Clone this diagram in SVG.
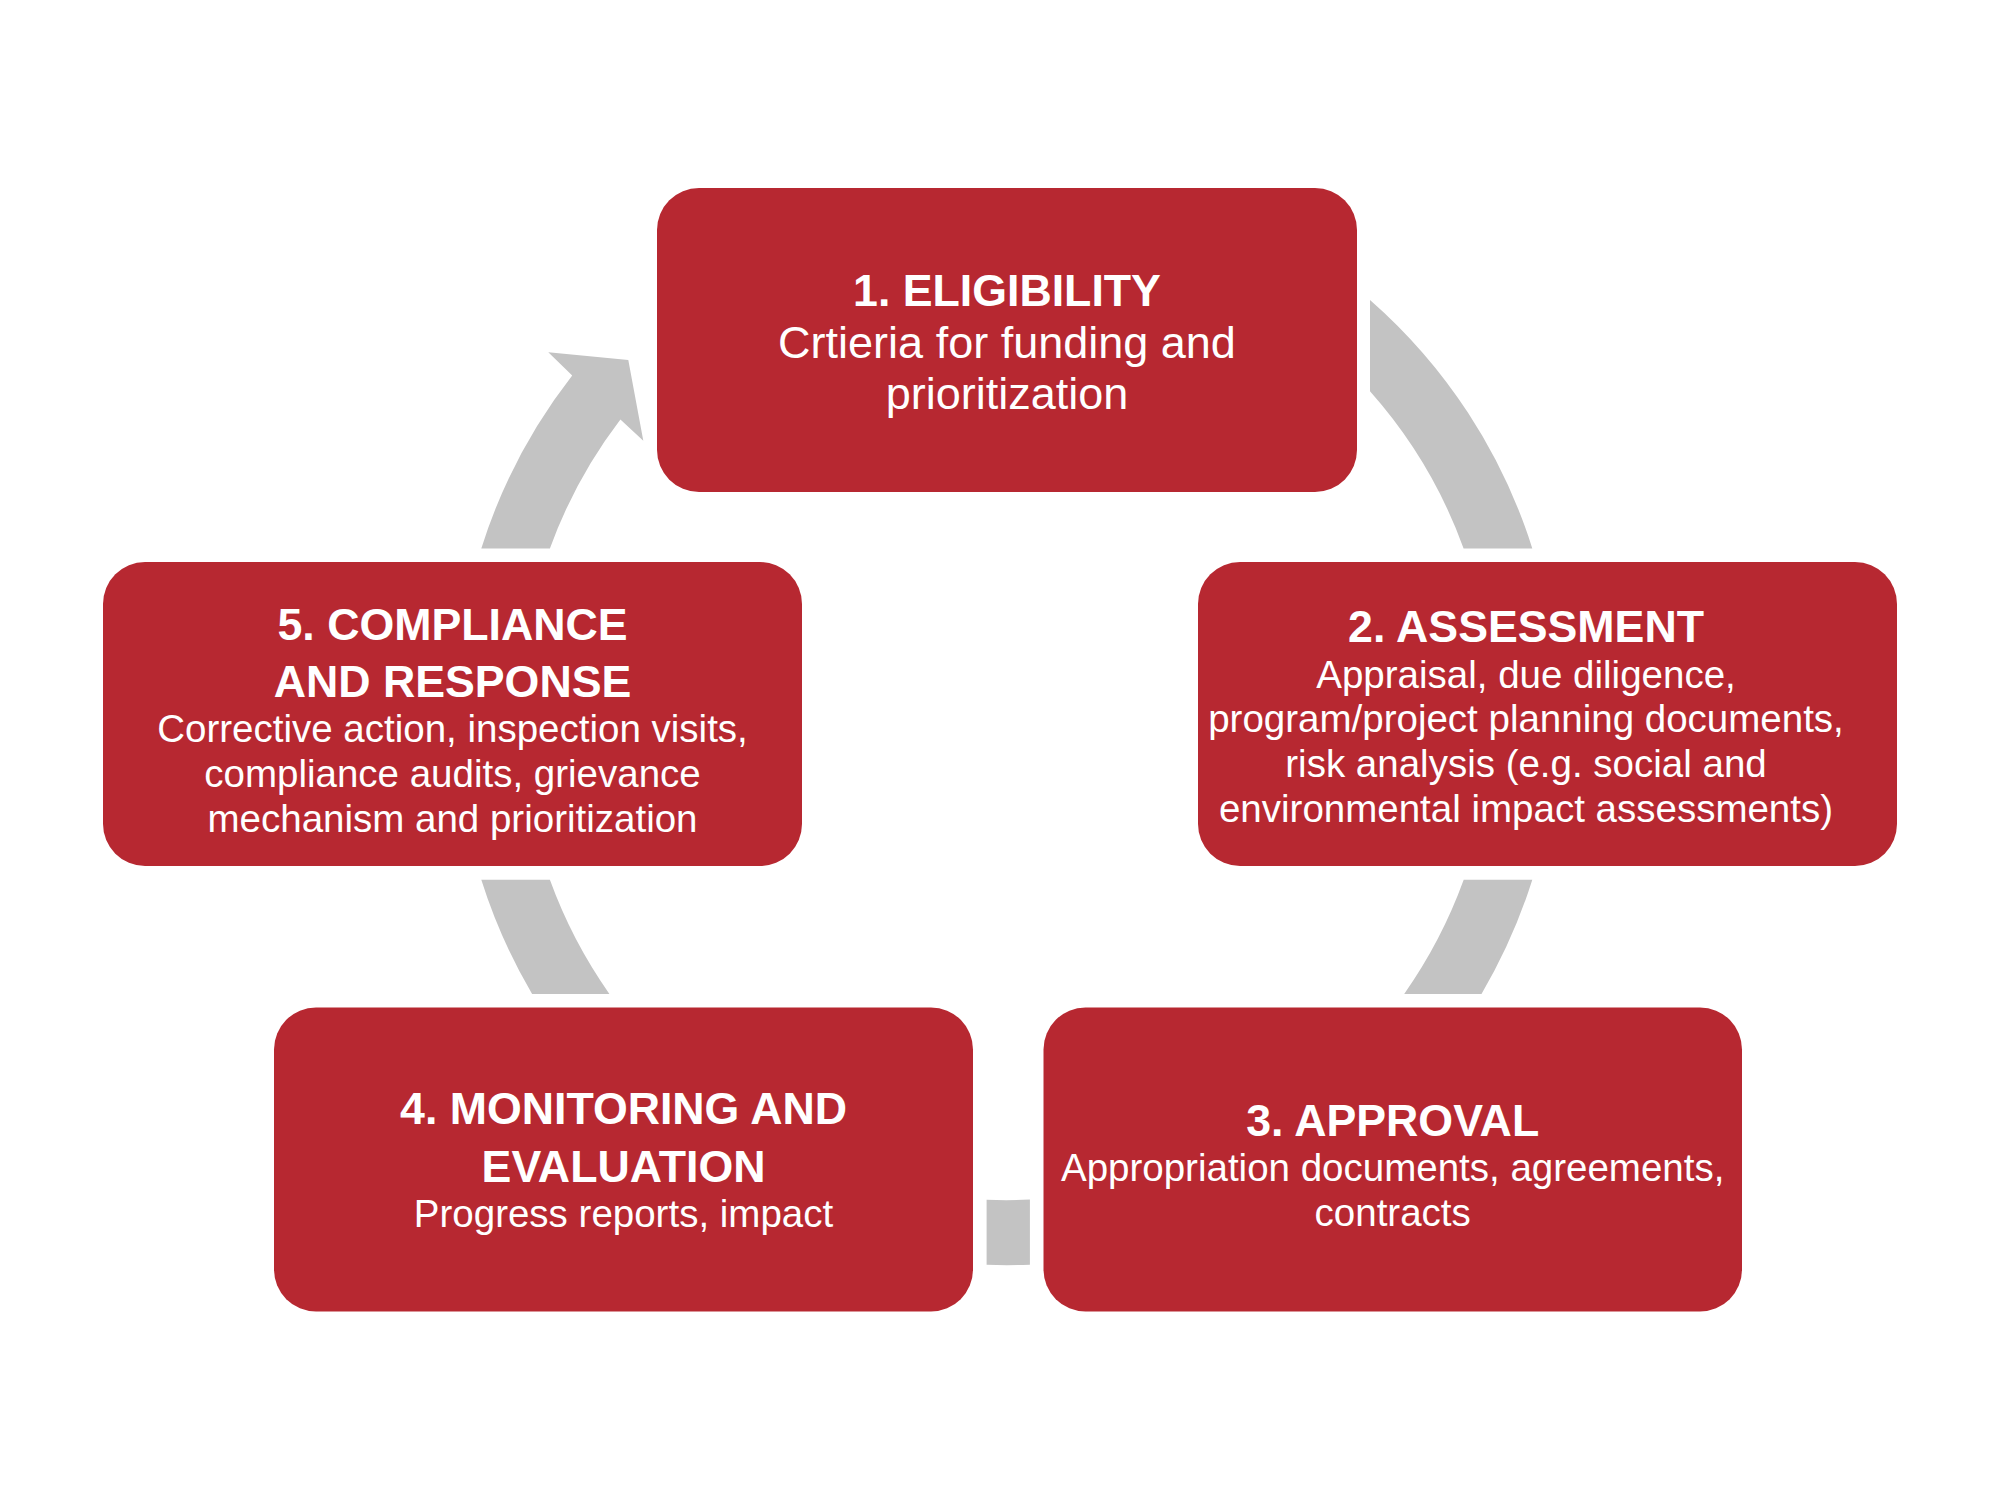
<svg xmlns="http://www.w3.org/2000/svg" width="2000" height="1500" viewBox="0 0 2000 1500">
<style>
.box{fill:#B72831}
.arc{fill:#C3C3C3}
text{font-family:"Liberation Sans",Arial,sans-serif;fill:#FFFFFF;text-anchor:middle}
.h{font-weight:bold;font-size:44.7px}
.b{font-size:38.5px}
.b1{font-size:45px}
</style>
<rect x="0" y="0" width="2000" height="1500" fill="#FFFFFF"/>
<g id="connectors">
<path class="arc" d="M1370,299.9 A551,551 0 0 1 1532.3,548.4 L1463.6,548.4 A486,486 0 0 0 1370,391.3 Z"/>
<path class="arc" d="M1532.3,879.8 A551,551 0 0 1 1481.5,993.9 L1404.2,993.9 A486,486 0 0 0 1463.7,879.8 Z"/>
<path class="arc" d="M1029.9,1264.7 A551,551 0 0 1 986.6,1264.8 L986.6,1199.8 A486,486 0 0 0 1029.9,1199.6 Z"/>
<path class="arc" d="M532.1,993.9 A551,551 0 0 1 481.3,879.8 L549.9,879.8 A486,486 0 0 0 609.4,993.9 Z"/>
<path class="arc" d="M481.3,548.4 A551,551 0 0 1 572.2,375.5 L548.3,352.3 L628.3,360 L643.3,440.7 L620.4,419.5 A486,486 0 0 0 549.9,548.4 Z"/>
</g>
<g id="node1">
<rect class="box" x="657" y="188" width="700" height="304" rx="42" ry="42"/>
<text class="h" x="1007" y="306">1. ELIGIBILITY</text>
<text class="b1" x="1007" y="358">Crtieria for funding and</text>
<text class="b1" x="1007" y="409">prioritization</text>
</g>
<g id="node2">
<rect class="box" x="1198" y="562" width="699" height="304" rx="42" ry="42"/>
<text class="h" x="1526" y="641.5">2. ASSESSMENT</text>
<text class="b" x="1526" y="687.5">Appraisal, due diligence,</text>
<text class="b" x="1526" y="732">program/project planning documents,</text>
<text class="b" x="1526" y="777">risk analysis (e.g. social and</text>
<text class="b" x="1526" y="821.5">environmental impact assessments)</text>
</g>
<g id="node3">
<rect class="box" x="1043.5" y="1007.5" width="698.5" height="304" rx="42" ry="42"/>
<text class="h" x="1392.7" y="1136">3. APPROVAL</text>
<text class="b" x="1392.7" y="1180.6">Appropriation documents, agreements,</text>
<text class="b" x="1392.7" y="1225.8">contracts</text>
</g>
<g id="node4">
<rect class="box" x="274" y="1007.5" width="699" height="304" rx="42" ry="42"/>
<text class="h" x="623.5" y="1124">4. MONITORING AND</text>
<text class="h" x="623.5" y="1181.7">EVALUATION</text>
<text class="b" x="623.5" y="1226.5">Progress reports, impact</text>
</g>
<g id="node5">
<rect class="box" x="103" y="562" width="699" height="304" rx="42" ry="42"/>
<text class="h" x="452.5" y="639.5">5. COMPLIANCE</text>
<text class="h" x="452.5" y="697">AND RESPONSE</text>
<text class="b" x="452.5" y="741.7">Corrective action, inspection visits,</text>
<text class="b" x="452.5" y="786.7">compliance audits, grievance</text>
<text class="b" x="452.5" y="831.7">mechanism and prioritization</text>
</g>
</svg>
